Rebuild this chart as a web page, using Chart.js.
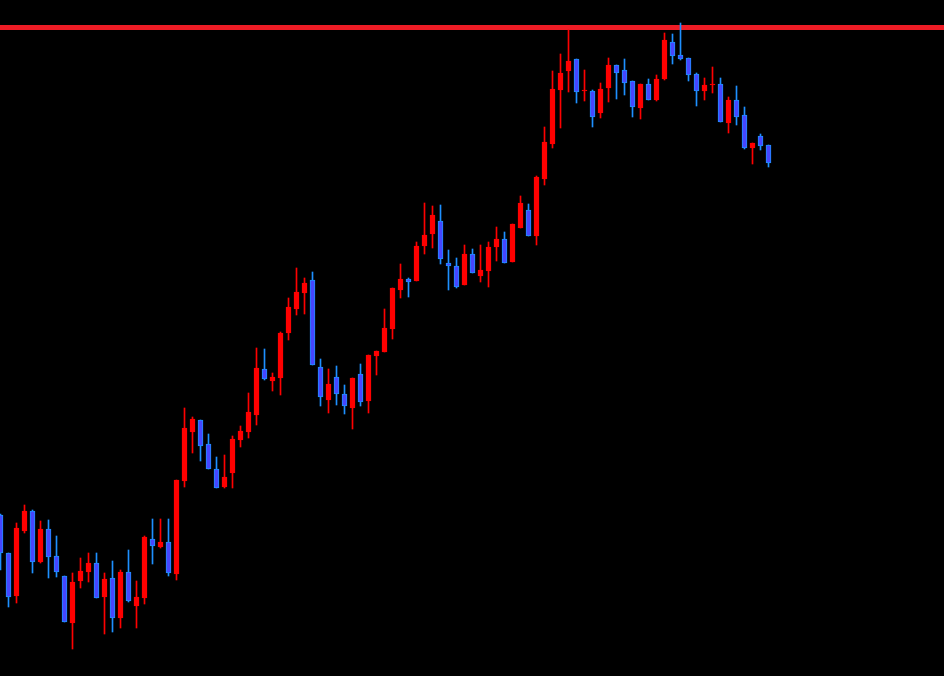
<!DOCTYPE html>
<html>
<head>
<meta charset="utf-8">
<script src="https://cdn.jsdelivr.net/npm/chart.js@4.4.0/dist/chart.umd.min.js"></script>
<style>
  html, body { margin: 0; padding: 0; background: #000; }
  #wrap { position: relative; width: 944px; height: 676px; background: #000; }
</style>
</head>
<body>
<div id="wrap"><canvas id="c"></canvas></div>
<script>
// OHLC values (arbitrary price units)
const opens = [185,147,104,169,189,138,171,144,124,77,119,128,137,103,122,82,128,94,102,161,153,158,126,219,268,280,256,231,213,227,260,268,285,331,319,322,367,391,407,420,333,300,323,306,292,326,299,344,348,371,410,421,419,454,466,479,437,434,415,446,424,429,453,461,438,472,490,464,521,556,610,629,641,609,609,587,612,635,630,619,592,616,600,621,658,645,642,626,609,615,616,577,600,585,552,564,555];
const highs = [186,147,177,195,190,179,180,164,124,127,142,147,147,127,139,130,150,119,164,181,181,181,220,292,283,280,266,243,245,264,274,307,352,351,327,368,402,432,422,428,341,331,334,315,322,336,345,349,391,412,436,422,458,497,494,495,450,442,455,451,455,458,473,468,476,504,496,524,573,629,646,670,641,630,610,617,642,635,641,619,616,621,625,667,666,677,642,627,622,633,622,603,614,593,557,566,555];
const lows  = [130,93,97,167,127,137,122,123,78,51,112,118,102,66,68,72,98,72,96,136,152,124,120,213,247,239,231,212,212,212,253,262,275,320,309,305,360,385,386,335,294,287,295,286,271,294,287,325,348,361,402,403,419,446,452,436,410,412,415,427,418,413,439,437,438,472,464,455,515,552,572,608,597,599,573,582,598,601,605,583,581,600,599,620,636,640,619,594,600,607,578,567,575,551,536,550,533];
const closes = [147,103,172,189,138,171,143,128,78,118,129,137,102,121,82,128,99,103,163,154,158,127,220,272,281,254,231,212,223,261,269,288,332,321,323,367,393,408,417,335,303,316,306,294,322,298,345,349,372,412,421,418,454,465,485,441,434,413,446,427,430,453,461,437,476,497,464,523,558,611,627,639,608,610,583,611,635,627,617,593,616,600,621,660,644,641,625,609,615,616,578,600,583,552,557,554,537];
const resistanceLevel = 672.5;

const upColor = '#ff0000';
const downFill = '#4646ff';
const downEdge = '#1e90ff';
const isUp = opens.map((o, i) => closes[i] >= o);

const wickData = highs.map((h, i) => ({ x: i, y: [lows[i], h] }));
const bodyData = opens.map((o, i) => ({ x: i, y: [o, closes[i]] }));

new Chart(document.getElementById('c'), {
  type: 'bar',
  data: {
    datasets: [
      {
        type: 'bar',
        data: bodyData,
        grouped: false,
        order: 1,
        barThickness: 5,
        backgroundColor: isUp.map(u => u ? upColor : downFill),
        borderColor: isUp.map(u => u ? upColor : downEdge),
        borderWidth: 1,
        borderSkipped: false
      },
      {
        type: 'bar',
        data: wickData,
        grouped: false,
        order: 2,
        barThickness: 1,
        backgroundColor: isUp.map(u => u ? upColor : downEdge),
        borderWidth: 0
      },
      {
        type: 'line',
        data: [{ x: -5, y: resistanceLevel }, { x: 130, y: resistanceLevel }],
        order: 3,
        borderColor: '#ee1c25',
        borderWidth: 5,
        pointRadius: 0,
        fill: false
      }
    ]
  },
  options: {
    responsive: true,
    maintainAspectRatio: false,
    animation: false,
    events: [],
    layout: { padding: 0 },
    plugins: { legend: { display: false }, tooltip: { enabled: false } },
    scales: {
      x: { type: 'linear', min: -0.0625, max: 117.9375, display: false, offset: false },
      y: { type: 'linear', min: 24, max: 700, display: false }
    }
  }
});
</script>
</body>
</html>
